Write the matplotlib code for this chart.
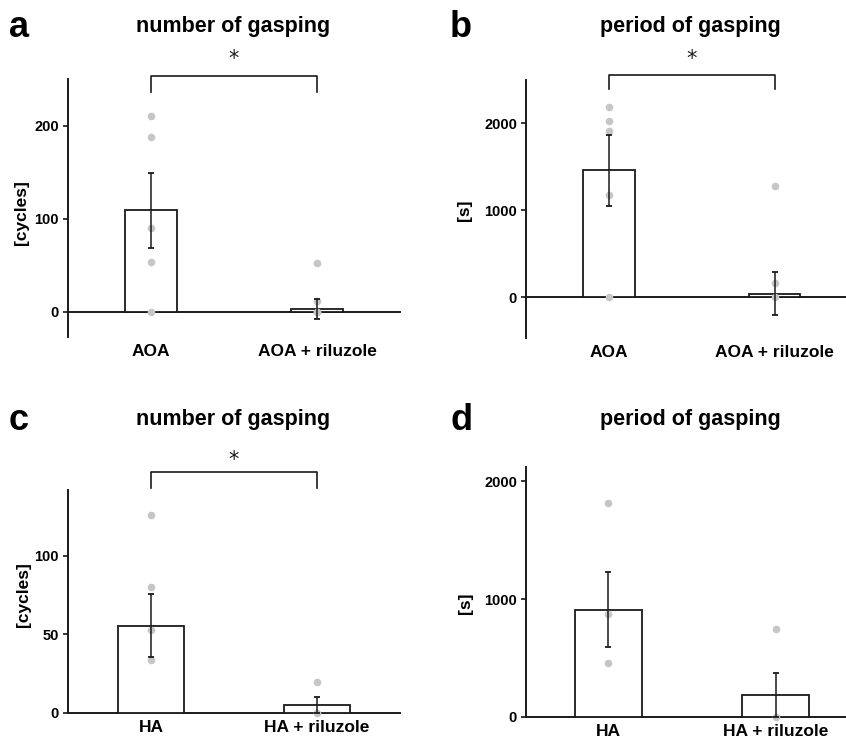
import matplotlib
matplotlib.use("Agg")
import matplotlib.pyplot as plt

plt.rcParams['font.family'] = ['Liberation Sans', 'DejaVu Sans']
plt.rcParams['font.weight'] = 'bold'

W, H = 846, 739

# panel a: number of gasping (AOA)
a_groups = ["AOA", "AOA + riluzole"]
a_mean = [109, 3]
a_sem = [40, 10.5]
a_pts = [[210, 188, 90, 54, 0], [52, 12, 0, 0]]

# panel b: period of gasping (AOA)
b_groups = ["AOA", "AOA + riluzole"]
b_mean = [1460, 40]
b_sem = [405, 250]
b_pts = [[2188, 2026, 1912, 1176, 0], [1284, 165, 0]]

# panel c: number of gasping (HA)
c_groups = ["HA", "HA + riluzole"]
c_mean = [55.5, 5]
c_sem = [20, 5]
c_pts = [[126, 80, 53, 33.5], [20, 0]]

# panel d: period of gasping (HA)
d_groups = ["HA", "HA + riluzole"]
d_mean = [910, 186]
d_sem = [320, 184]
d_pts = [[1811, 873, 455], [743, 0]]


def px_axes(x0, y0, x1, y1):
    # pixel box (from top-left) -> figure axes
    return fig.add_axes([x0 / W, 1 - y1 / H, (x1 - x0) / W, (y1 - y0) / H])


def panel(ax, groups, mean, sem, pts, ylim, xlim, yticks, width):
    xs = range(len(groups))
    ax.bar(xs, mean, width=width, color='white', edgecolor='#1a1a1a',
           linewidth=1.3, zorder=2)
    for x, p in zip(xs, pts):
        ax.scatter([x] * len(p), p, s=30, color='#c6c6c6', linewidths=0,
                   zorder=3, clip_on=False)
    ax.errorbar(list(xs), mean, yerr=sem, fmt='none', ecolor='#1a1a1a',
                elinewidth=1.1, capsize=2.2, capthick=1.3, zorder=4)
    ax.axhline(0, color='#1a1a1a', linewidth=1.4, zorder=1, clip_on=False)
    ax.set_xlim(*xlim)
    ax.set_ylim(*ylim)
    ax.set_yticks(yticks)
    ax.set_xticks(list(xs))
    ax.set_xticklabels(groups, fontsize=12.5, fontweight='bold')
    ax.tick_params(axis='x', length=0, pad=5)
    ax.tick_params(axis='y', length=3.5, width=1.1, pad=3, labelsize=10.5)
    for lab in ax.get_yticklabels():
        lab.set_fontweight('bold')
    for s in ['top', 'right', 'bottom']:
        ax.spines[s].set_visible(False)
    ax.spines['left'].set_linewidth(1.4)
    ax.spines['left'].set_color('#1a1a1a')
    ax.patch.set_alpha(0)


def bracket(ax, top, leg, star):
    ax.plot([0, 0, 1, 1], [leg, top, top, leg], color='#1a1a1a',
            linewidth=1.2, clip_on=False)
    ax.text(0.5, star, '*', ha='center', va='center', fontsize=15,
            fontweight='normal', color='#1a1a1a', family='DejaVu Sans')


fig = plt.figure(figsize=(W / 100, H / 100), dpi=100)

ax_a = px_axes(68, 79, 400, 337)
panel(ax_a, a_groups, a_mean, a_sem, a_pts, (-27, 250), (-0.5, 1.5),
      [0, 100, 200], 0.31)
bracket(ax_a, 253, 236, 272)

ax_b = px_axes(526, 80, 846, 338)
panel(ax_b, b_groups, b_mean, b_sem, b_pts, (-470, 2500), (-0.5, 1.43),
      [0, 1000, 2000], 0.31)
bracket(ax_b, 2563, 2391, 2740)

ax_c = px_axes(68, 490, 400, 713)
panel(ax_c, c_groups, c_mean, c_sem, c_pts, (0, 142), (-0.5, 1.5),
      [0, 50, 100], 0.4)
bracket(ax_c, 153.5, 143, 161)

ax_d = px_axes(526, 467, 846, 717)
panel(ax_d, d_groups, d_mean, d_sem, d_pts, (0, 2120), (-0.49, 1.42),
      [0, 1000, 2000], 0.4)


def ftext(x, y, s, **kw):
    fig.text(x / W, 1 - y / H, s, **kw)


# titles, panel letters, axis labels
ftext(233, 32, 'number of gasping', ha='center', va='baseline', fontsize=15.5)
ftext(690, 32, 'period of gasping', ha='center', va='baseline', fontsize=15.5)
ftext(233, 425, 'number of gasping', ha='center', va='baseline', fontsize=15.5)
ftext(690, 425, 'period of gasping', ha='center', va='baseline', fontsize=15.5)

ftext(9, 37, 'a', va='baseline', fontsize=26)
ftext(450, 37, 'b', va='baseline', fontsize=26)
ftext(9, 430, 'c', va='baseline', fontsize=26)
ftext(450, 430, 'd', va='baseline', fontsize=26)

ftext(22, 213, '[cycles]', rotation=90, ha='center', va='center', fontsize=12.5)
ftext(464, 210, '[s]', rotation=90, ha='center', va='center', fontsize=12.5)
ftext(23, 595, '[cycles]', rotation=90, ha='center', va='center', fontsize=12.5)
ftext(465, 603, '[s]', rotation=90, ha='center', va='center', fontsize=12.5)

fig.savefig('out.png', dpi=100)
